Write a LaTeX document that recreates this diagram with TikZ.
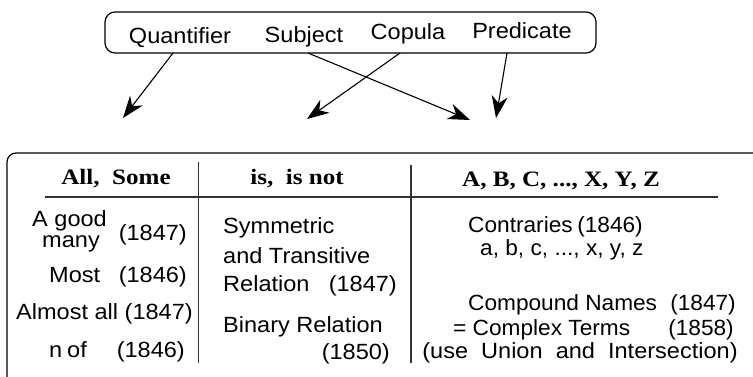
\documentclass[tikz,border=0pt]{standalone}
\usepackage{fontspec}
\setmainfont[FakeStretch=1.07]{Liberation Sans}
\newfontfamily\colthree[FakeStretch=1.03]{Liberation Sans}
\newfontfamily\hdrfont[FakeStretch=1.14]{Liberation Serif}
\usetikzlibrary{arrows.meta}
\begin{document}
\begin{tikzpicture}[x=1pt,y=-1pt,
  lbl/.style={inner sep=0pt, font=\fontsize{22}{22}\selectfont},
  txt/.style={inner sep=0pt, font=\fontsize{22}{22}\selectfont},
  txtc/.style={inner sep=0pt, font=\colthree\fontsize{22}{22}\selectfont},
  hdr/.style={inner sep=0pt, font=\hdrfont\bfseries\fontsize{22}{22}\selectfont},
  conn/.style={line width=1.1pt, -{Stealth[length=22pt,width=16pt,inset=7pt]}},
  rule/.style={line width=1.1pt, draw=black!80},
  frame/.style={draw, line width=1.2pt, inner sep=0pt}]
\useasboundingbox (0,0) rectangle (753,376);
\clip (0,0) rectangle (753,376);
% top box
\node[frame, rounded corners=10pt, minimum width=491pt, minimum height=41pt] (topbox) at (350.5,32.5) {};
\node[lbl, anchor=base] (quant) at (180,43) {Quantifier};
\node[lbl, anchor=base] (subj) at (304,42) {Subject};
\node[lbl, anchor=base] (cop) at (408,39.5) {Copula};
\node[lbl, anchor=base] (pred) at (522,38.5) {Predicate};
% arrow ends
\coordinate (q1) at (173,53); \coordinate (q2) at (123,118);
\coordinate (s1) at (308,53); \coordinate (s2) at (470,120);
\coordinate (c1) at (400,53); \coordinate (c2) at (307,119);
\coordinate (p1) at (507,53); \coordinate (p2) at (496,118);
\draw[conn] (q1) -- (q2);
\draw[conn] (s1) -- (s2);
\draw[conn] (c1) -- (c2);
\draw[conn] (p1) -- (p2);
% big frame
\node[frame, rounded corners=9pt, minimum width=773pt, minimum height=247pt] (bigbox) at (393.5,276.5) {};
\coordinate (v1a) at (198.5,162); \coordinate (v1b) at (198.5,363);
\coordinate (v2a) at (411,165); \coordinate (v2b) at (411,363);
\coordinate (ha) at (45,197); \coordinate (hb) at (718,197);
\draw[rule] (v1a) -- (v1b);
\draw[rule] (v2a) -- (v2b);
\draw[rule] (ha) -- (hb);
% headers
\node[hdr, anchor=base] (h1) at (116,184) {All,\ \ Some};
\node[hdr, anchor=base] (h2) at (297,184) {is,\ \ is not};
\node[hdr, anchor=base] (h3) at (561,186) {A, B, C, ..., X, Y, Z};
% column 1
\node[txt, anchor=base] (agood) at (69.5,226.5) {A good};
\node[txt, anchor=base] (many) at (71,247) {many};
\node[txt, anchor=base east] (y1) at (187,240.5) {(1847)};
\node[txt, anchor=base west] (most) at (49,282.3) {Most};
\node[txt, anchor=base east] (y2) at (187,282.3) {(1846)};
\node[txt, anchor=base east] (almost) at (193,319.3) {Almost all (1847)};
\node[txt, anchor=base west] (nn) at (49,357.3) {n};
\node[txt, anchor=base west] (of) at (67,357.3) {of};
\node[txt, anchor=base east] (y3) at (185,357.3) {(1846)};
% column 2
\node[txt, anchor=base west] (sym) at (223,233.5) {Symmetric};
\node[txt, anchor=base west] (trans) at (223,263) {and Transitive};
\node[txt, anchor=base west] (rel) at (223,291.7) {Relation};
\node[txt, anchor=base east] (y4) at (397,291.7) {(1847)};
\node[txt, anchor=base west] (bin) at (223,332.7) {Binary Relation};
\node[txt, anchor=base east] (y5) at (390,359) {(1850)};
% column 3
\node[txtc, anchor=base west] (contr) at (468,232) {Contraries};
\node[txtc, anchor=base east] (y6) at (643,232) {(1846)};
\node[txtc, anchor=base west] (abc) at (480,255) {a, b, c, ..., x, y, z};
\node[txtc, anchor=base west] (comp) at (468,310) {Compound Names};
\node[txtc, anchor=base east] (y7) at (736,310) {(1847)};
\node[txtc, anchor=base west] (cterm) at (453,335) {= Complex Terms};
\node[txtc, anchor=base east] (y8) at (734,335) {(1858)};
\node[txt, anchor=base] (useu) at (580,358) {(use\ \ Union\ \ and\ \ Intersection)};
\end{tikzpicture}
\end{document}
